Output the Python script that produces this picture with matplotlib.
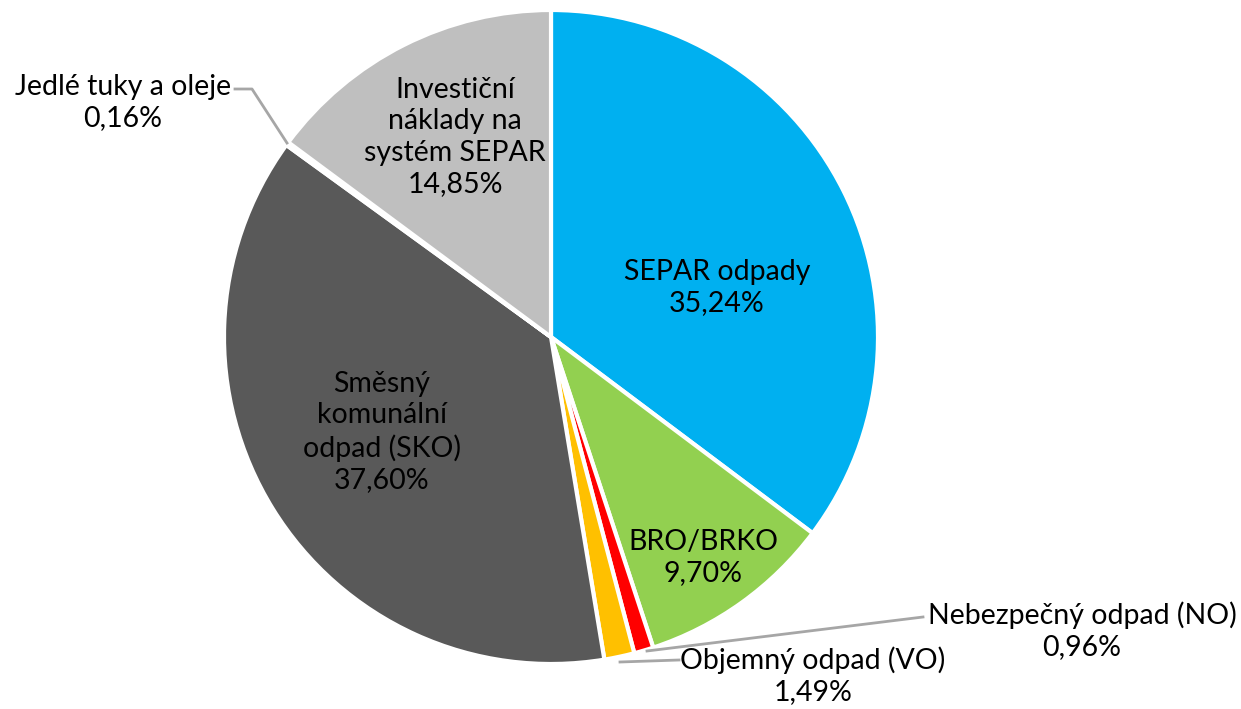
import matplotlib
matplotlib.use("Agg")
import matplotlib.pyplot as plt

W, H = 1241, 709

labels = ["SEPAR odpady", "BRO/BRKO", "Nebezpečný odpad (NO)", "Objemný odpad (VO)",
          "Směsný komunální odpad (SKO)", "Jedlé tuky a oleje",
          "Investiční náklady na systém SEPAR"]
shares = [35.24, 9.70, 0.96, 1.49, 37.60, 0.16, 14.85]
colors = ["#00B0F0", "#92D050", "#FF0000", "#FFC000", "#595959", "#A5A5A5", "#BFBFBF"]

# label text as shown in the chart (line breaks as in the original)
label_text = ["SEPAR odpady", "BRO/BRKO", "Nebezpečný odpad (NO)", "Objemný odpad (VO)",
              "Směsný\nkomunální\nodpad (SKO)", "Jedlé tuky a oleje",
              "Investiční\nnáklady na\nsystém SEPAR"]
# label centres in pixel coords (x, y from top)
label_pos = [(717, 288), (703, 558), (1082, 631), (813, 676),
             (382, 432), (123, 103), (455, 137)]

plt.rcParams["font.family"] = ["Lato", "DejaVu Sans"]

fig = plt.figure(figsize=(W / 100, H / 100), dpi=100)
ax = fig.add_axes([0, 0, 1, 1])

cx, cy, r = 551, H - 337, 327
ax.pie(shares, colors=colors, startangle=90, counterclock=False,
       center=(cx, cy), radius=r, frame=True,
       wedgeprops=dict(edgecolor="white", linewidth=3))
ax.set_xlim(0, W)
ax.set_ylim(0, H)
ax.axis("off")

for txt, val, (x, y) in zip(label_text, shares, label_pos):
    s = txt + "\n" + f"{val:.2f}".replace(".", ",") + "%"
    ax.text(x, H - y, s, ha="center", va="center", fontsize=20.5,
            linespacing=1.24, color="#000000")

# leader lines
lc = "#A6A6A6"
ax.plot([235, 252, 287], [H - 89, H - 89, H - 143], color=lc, lw=2)
ax.plot([647, 923], [H - 651, H - 617], color=lc, lw=2)
ax.plot([620, 679], [H - 662, H - 660], color=lc, lw=2)

fig.savefig("out.png", dpi=100)
